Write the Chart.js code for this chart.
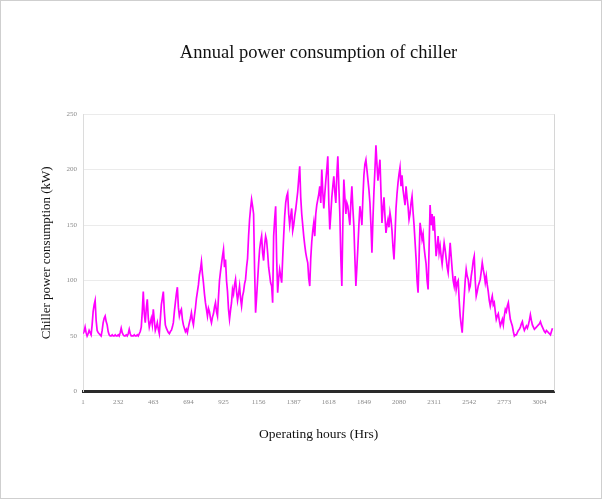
<!DOCTYPE html>
<html>
<head>
<meta charset="utf-8">
<script src="https://cdn.jsdelivr.net/npm/chart.js@4.4.1/dist/chart.umd.min.js"></script>
<style>
html,body{margin:0;padding:0;background:#fff;}
#wrap{width:602px;height:499px;position:relative;}
</style>
</head>
<body>
<div id="wrap"><canvas id="c" width="602" height="499"></canvas></div>
<script>
// Chart title and axis titles
const chartTitle = "Annual power consumption of chiller";
const xTitle = "Operating hours (Hrs)";
const yTitle = "Chiller power consumption (kW)";

// x-axis tick labels (operating hour index)
const xTickValues = [1, 232, 463, 694, 925, 1156, 1387, 1618, 1849, 2080, 2311, 2542, 2773, 3004];
// y-axis ticks (kW)
const yTickValues = [0, 50, 100, 150, 200, 250];

// sampling interval of the traced series (hours between samples), first hour
const firstHour = 1;
const sampleHours = 6.6;

// chiller power consumption (kW)
const powerKW = [
  52, 54, 58, 53, 50, 52, 55, 53, 51, 60, 72, 78, 82, 64, 55, 53, 52, 51, 50, 55,
  62, 66, 68, 63, 60, 54, 51, 50, 50, 51, 50, 50, 51, 50, 50, 51, 50, 53, 57, 53,
  51, 50, 50, 51, 50, 52, 56, 52, 50, 50, 50, 51, 50, 50, 51, 50, 52, 54, 58, 72,
  90, 70, 62, 75, 83, 66, 58, 62, 66, 60, 74, 64, 55, 58, 62, 56, 52, 65, 78, 84,
  90, 72, 60, 57, 55, 53, 52, 54, 55, 58, 62, 72, 80, 88, 94, 76, 68, 72, 74, 65,
  60, 57, 54, 56, 53, 58, 62, 66, 71, 64, 60, 68, 75, 84, 90, 96, 105, 110, 117, 106,
  98, 88, 80, 74, 68, 75, 72, 66, 62, 67, 70, 76, 80, 72, 68, 85, 100, 108, 115, 122,
  128, 112, 119, 100, 90, 74, 65, 73, 80, 92, 88, 96, 101, 90, 82, 88, 95, 84, 77, 86,
  90, 97, 101, 112, 120, 140, 155, 165, 173, 167, 160, 110, 71, 85, 100, 115, 128, 135, 140, 125,
  118, 132, 140, 136, 125, 112, 105, 98, 95, 80, 140, 155, 167, 120, 89, 102, 110, 104, 98, 120,
  140, 158, 170, 176, 179, 160, 150, 158, 165, 145, 150, 158, 164, 172, 180, 192, 203, 175, 160, 150,
  140, 132, 125, 120, 116, 102, 95, 120, 135, 145, 152, 140, 160, 168, 173, 178, 185, 170, 200, 180,
  165, 178, 190, 200, 212, 170, 146, 160, 175, 185, 194, 180, 170, 195, 212, 185, 160, 120, 95, 150,
  191, 175, 160, 170, 167, 158, 150, 170, 185, 165, 149, 120, 95, 112, 130, 150, 167, 160, 150, 175,
  195, 205, 209, 200, 191, 182, 170, 150, 125, 155, 180, 200, 222, 205, 190, 200, 209, 180, 152, 165,
  175, 158, 143, 150, 155, 148, 161, 155, 145, 130, 119, 140, 165, 178, 188, 196, 202, 185, 195, 182,
  175, 168, 185, 175, 167, 155, 160, 170, 176, 162, 150, 135, 120, 100, 89, 120, 152, 145, 137, 142,
  130, 122, 115, 100, 92, 130, 168, 150, 160, 145, 158, 140, 122, 130, 140, 125, 131, 122, 115, 125,
  134, 128, 120, 112, 107, 120, 134, 122, 110, 100, 95, 104, 92, 98, 100, 82, 68, 60, 53, 70,
  85, 100, 110, 104, 101, 92, 95, 104, 110, 118, 122, 100, 86, 90, 95, 98, 101, 108, 116, 110,
  105, 98, 104, 96, 90, 82, 77, 82, 86, 78, 80, 72, 65, 68, 70, 64, 59, 62, 65, 60,
  68, 74, 72, 77, 80, 72, 65, 62, 59, 54, 50, 51, 51, 53, 55, 56, 58, 61, 63, 58,
  55, 57, 59, 57, 60, 64, 69, 64, 60, 58, 56, 57, 58, 59, 60, 61, 63, 60, 58, 56,
  54, 53, 55, 54, 53, 52, 51, 54, 57
];

const points = powerKW.map((v, i) => ({ x: firstHour + i * sampleHours, y: v }));

const frame = {
  id: 'frame',
  beforeDraw(chart) {
    const ctx = chart.ctx;
    ctx.save();
    ctx.fillStyle = '#ffffff';
    ctx.fillRect(0, 0, chart.width, chart.height);
    ctx.restore();
  },
  afterDraw(chart) {
    const ctx = chart.ctx, a = chart.chartArea;
    ctx.save();
    ctx.strokeStyle = '#d6d6d6';
    ctx.lineWidth = 1;
    ctx.beginPath();
    ctx.moveTo(Math.round(a.right) + 0.5, a.top);
    ctx.lineTo(Math.round(a.right) + 0.5, a.bottom);
    ctx.stroke();
    ctx.strokeStyle = '#cfcfcf';
    ctx.strokeRect(0.5, 0.5, chart.width - 1, chart.height - 1);
    ctx.restore();
  }
};

new Chart(document.getElementById('c'), {
  type: 'line',
  data: {
    datasets: [{
      data: points,
      borderColor: '#ff00ff',
      borderWidth: 1.7,
      pointRadius: 0,
      tension: 0,
      fill: false
    }]
  },
  options: {
    responsive: false,
    animation: false,
    events: [],
    layout: { padding: { left: 0, right: 48, top: 0, bottom: 0 } },
    plugins: {
      legend: { display: false },
      tooltip: { enabled: false },
      title: {
        display: true,
        text: chartTitle,
        fullSize: false,
        color: '#111111',
        font: { family: '"Liberation Serif", "Times New Roman", serif', size: 18.5, weight: 'normal' },
        padding: { top: 42, bottom: 50 }
      }
    },
    scales: {
      x: {
        type: 'linear',
        min: 1,
        max: 3100,
        afterBuildTicks: (scale) => { scale.ticks = xTickValues.map(v => ({ value: v })); },
        ticks: {
          autoSkip: false,
          maxRotation: 0,
          padding: 7,
          color: '#8a8a8a',
          font: { family: '"Liberation Serif", serif', size: 7 },
          callback: (v) => String(v)
        },
        grid: { display: false, drawTicks: false },
        border: { display: true, color: '#2a2a2a', width: 3 },
        title: {
          display: true,
          text: xTitle,
          color: '#111111',
          font: { family: '"Liberation Serif", "Times New Roman", serif', size: 13.5 },
          padding: { top: 13, bottom: 56 }
        }
      },
      y: {
        min: 0,
        max: 250,
        afterBuildTicks: (scale) => { scale.ticks = yTickValues.map(v => ({ value: v })); },
        ticks: {
          padding: 6,
          color: '#8a8a8a',
          font: { family: '"Liberation Serif", serif', size: 7 }
        },
        grid: { color: '#ebebeb', lineWidth: 1, drawTicks: false },
        border: { display: true, color: '#dcdcdc', width: 1 },
        title: {
          display: true,
          text: yTitle,
          color: '#111111',
          font: { family: '"Liberation Serif", "Times New Roman", serif', size: 13 },
          padding: { top: 39, bottom: 6 }
        }
      }
    }
  },
  plugins: [frame]
});
</script>
</body>
</html>
